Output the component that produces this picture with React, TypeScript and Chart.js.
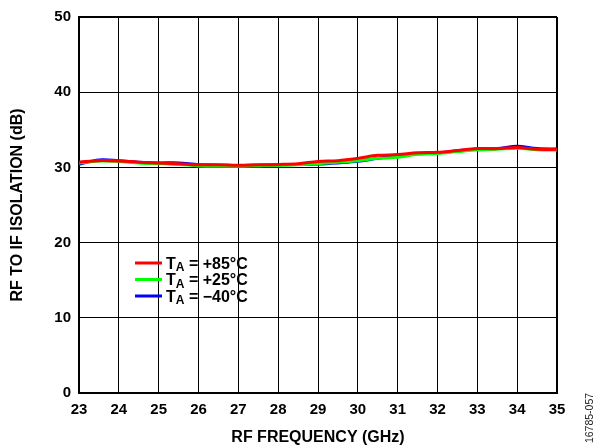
import React, { useEffect, useRef } from "react";
import { Chart, registerables } from "chart.js";

Chart.register(...registerables);

const freqGHz = [23, 23.5, 24, 24.5, 25, 25.5, 26, 26.5, 27, 27.5, 28, 28.5, 29, 29.5, 30, 30.5, 31, 31.5, 32, 32.5, 33, 33.5, 34, 34.5, 35];
const iso85 = [30.7, 30.9, 30.85, 30.7, 30.6, 30.5, 30.35, 30.35, 30.3, 30.35, 30.4, 30.5, 30.8, 30.9, 31.2, 31.6, 31.7, 31.95, 32.0, 32.25, 32.5, 32.5, 32.65, 32.4, 32.4];
const iso25 = [30.6, 30.85, 30.8, 30.6, 30.5, 30.4, 30.2, 30.15, 30.15, 30.2, 30.25, 30.35, 30.5, 30.7, 30.9, 31.2, 31.35, 31.75, 31.85, 32.1, 32.35, 32.4, 32.55, 32.35, 32.3];
const isoM40 = [30.4, 31.0, 30.9, 30.7, 30.6, 30.6, 30.35, 30.3, 30.25, 30.3, 30.35, 30.4, 30.45, 30.6, 30.8, 31.2, 31.5, 31.8, 31.9, 32.2, 32.45, 32.5, 32.8, 32.5, 32.45];

const legendTemps = ["+85°C", "+25°C", "\u221240°C"];
const seriesColors = ["#ff0000", "#00ff00", "#0000ff"];

const FONT = '"Liberation Sans", Arial, sans-serif';

const overlayPlugin = {
  id: "overlay",
  afterDraw(chart: any) {
    const ctx = chart.ctx;
    ctx.save();
    const lineYs = [263, 279.5, 296];
    legendTemps.forEach((t, i) => {
      const y = lineYs[i];
      ctx.strokeStyle = seriesColors[i];
      ctx.lineWidth = 3;
      ctx.lineCap = "butt";
      ctx.beginPath();
      ctx.moveTo(135, y);
      ctx.lineTo(162, y);
      ctx.stroke();
      ctx.fillStyle = "#000";
      ctx.textAlign = "left";
      ctx.textBaseline = "alphabetic";
      let x = 166;
      const base = y + 5.5;
      ctx.font = "bold 16px " + FONT;
      ctx.fillText("T", x, base);
      x += ctx.measureText("T").width;
      ctx.font = "bold 12px " + FONT;
      ctx.fillText("A", x, base + 2.5);
      x += ctx.measureText("A").width;
      ctx.font = "bold 16px " + FONT;
      ctx.fillText(" = " + t, x, base);
    });
    ctx.translate(590, 418);
    ctx.rotate(-Math.PI / 2);
    ctx.font = "10.5px " + FONT;
    ctx.fillStyle = "#222";
    ctx.textAlign = "center";
    ctx.textBaseline = "middle";
    ctx.fillText("16785-057", 0, 0);
    ctx.restore();
  },
};

export default function App() {
  const ref = useRef<HTMLCanvasElement | null>(null);
  useEffect(() => {
    if (!ref.current) return;
    const mk = (data: number[], color: string, label: string) => ({
      label,
      data: freqGHz.map((f, i) => ({ x: f, y: data[i] })),
      borderColor: color,
      backgroundColor: color,
      borderWidth: 3,
      pointRadius: 0,
      tension: 0.35,
      fill: false,
    });
    const chart = new Chart(ref.current, {
      type: "line",
      data: {
        datasets: [
          mk(iso85, seriesColors[0], "TA = +85°C"),
          mk(iso25, seriesColors[1], "TA = +25°C"),
          mk(isoM40, seriesColors[2], "TA = −40°C"),
        ],
      },
      options: {
        animation: false,
        responsive: false,
        maintainAspectRatio: false,
        layout: { padding: { top: 12, right: 42, left: 0, bottom: 0 } },
        plugins: { legend: { display: false }, tooltip: { enabled: false } },
        scales: {
          x: {
            type: "linear",
            min: 23,
            max: 35,
            afterFit: (s: any) => {
              s.height = 54;
            },
            ticks: {
              stepSize: 1,
              padding: 8,
              color: "#000",
              font: { family: FONT, size: 15, weight: "bold" },
              maxRotation: 0,
            },
            grid: {
              color: "#000",
              drawTicks: false,
              lineWidth: (c: any) => (c.tick && c.tick.value === 35 ? 2 : 1),
            },
            border: { color: "#000", width: 2 },
            title: {
              display: true,
              text: "RF FREQUENCY (GHz)",
              color: "#000",
              font: { family: FONT, size: 16, weight: "bold" },
              padding: { top: 1, bottom: 0 },
            },
          },
          y: {
            min: 0,
            max: 50,
            afterFit: (s: any) => {
              s.width = 79;
            },
            ticks: {
              stepSize: 10,
              padding: 8,
              color: "#000",
              font: { family: FONT, size: 15, weight: "bold" },
            },
            grid: {
              color: "#000",
              drawTicks: false,
              lineWidth: (c: any) => (c.tick && c.tick.value === 50 ? 2 : 1),
            },
            border: { color: "#000", width: 2 },
            title: {
              display: true,
              text: "RF TO IF ISOLATION (dB)",
              color: "#000",
              font: { family: FONT, size: 16, weight: "bold" },
              padding: { top: 8, bottom: 0 },
            },
          },
        },
      },
      plugins: [overlayPlugin],
    } as any);
    return () => chart.destroy();
  }, []);
  return (
    <div style={{ position: "fixed", left: 0, top: 0, width: 599, height: 447, background: "#fff" }}>
      <canvas ref={ref} width={599} height={447} style={{ display: "block" }} />
    </div>
  );
}
